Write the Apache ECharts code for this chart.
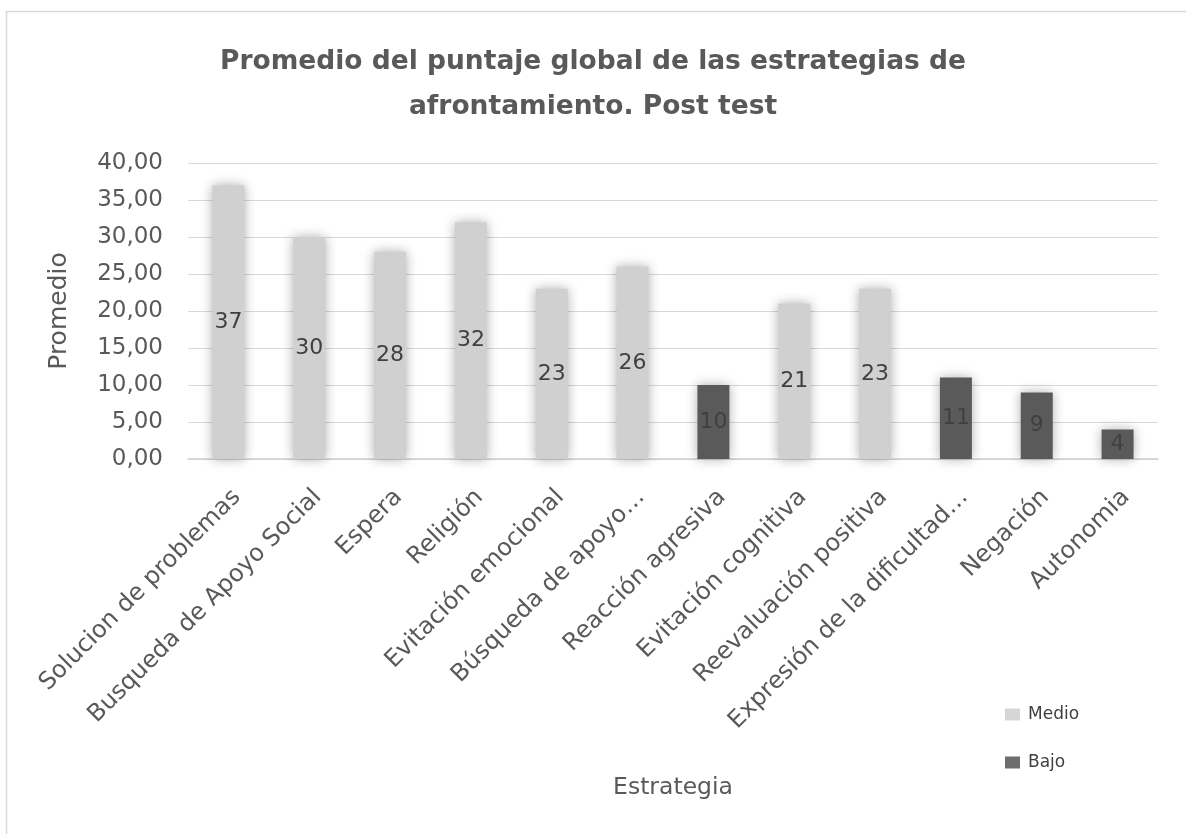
<!DOCTYPE html>
<html>
<head>
<meta charset="utf-8">
<title>Promedio del puntaje global</title>
<script src="https://cdn.jsdelivr.net/npm/echarts@6/dist/echarts.min.js"></script>
<style>
  html, body { margin: 0; padding: 0; background: #ffffff; }
  #chart { width: 1186px; height: 834px; }
</style>
</head>
<body>
<div id="chart"></div>
<script>
// Coping strategies (post test) and their average global score
const categories = [
  'Solucion de problemas', 'Busqueda de Apoyo Social', 'Espera', 'Religión',
  'Evitación emocional', 'Búsqueda de apoyo…', 'Reacción agresiva',
  'Evitación cognitiva', 'Reevaluación positiva', 'Expresión de la dificultad…',
  'Negación', 'Autonomia'
];
const medio = [37, 30, 28, 32, 23, 26, null, 21, 23, null, null, null];
const bajo  = [null, null, null, null, null, null, 10, null, null, 11, 9, 4];
const yTicks = { min: 0, max: 40, interval: 5 };

const FONT = 'DejaVu Sans, Liberation Sans, sans-serif';
const chart = echarts.init(document.getElementById('chart'), null, { renderer: 'canvas' });

const labelStyle = {
  show: true,
  position: 'inside',
  fontFamily: FONT,
  fontSize: 22,
  color: '#404040',
  formatter: p => (p.value == null ? '' : String(p.value))
};

const barShadow = { shadowBlur: 12, shadowColor: 'rgba(0,0,0,0.32)' };

chart.setOption({
  backgroundColor: '#ffffff',
  animation: false,
  graphic: [{
    type: 'rect',
    shape: { x: 6.5, y: 11.5, width: 1400, height: 1000 },
    style: { fill: 'none', stroke: '#d9d9d9', lineWidth: 1.5 },
    silent: true
  }],
  title: {
    text: 'Promedio del puntaje global de las estrategias de\nafrontamiento. Post test',
    left: 'center',
    top: 35,
    textStyle: {
      fontFamily: FONT,
      fontWeight: 'bold',
      fontSize: 26.5,
      lineHeight: 45,
      color: '#595959'
    }
  },
  legend: {
    orient: 'vertical',
    left: 1000,
    top: 701,
    itemWidth: 15,
    itemHeight: 12,
    itemGap: 31,
    icon: 'rect',
    textStyle: { fontFamily: FONT, fontSize: 17, color: '#404040', padding: [0, 0, 0, 3] },
    data: [
      { name: 'Medio', itemStyle: { color: '#d6d6d6', shadowBlur: 0 } },
      { name: 'Bajo', itemStyle: { color: '#6e6e6e', shadowBlur: 0 } }
    ]
  },
  grid: { left: 188, right: 28, top: 163, bottom: 375, containLabel: false },
  xAxis: {
    type: 'category',
    data: categories,
    name: 'Estrategia',
    nameLocation: 'middle',
    nameGap: 317,
    nameTextStyle: { fontFamily: FONT, fontSize: 23.5, color: '#595959' },
    axisLine: { lineStyle: { color: '#d0d0d0', width: 1.5 } },
    axisTick: { show: false },
    axisLabel: {
      interval: 0,
      rotate: 45,
      margin: 26,
      verticalAlign: 'top',
      fontFamily: FONT,
      fontSize: 24,
      color: '#595959'
    }
  },
  yAxis: {
    type: 'value',
    min: yTicks.min,
    max: yTicks.max,
    interval: yTicks.interval,
    name: 'Promedio',
    nameLocation: 'middle',
    nameGap: 116,
    nameRotate: 90,
    nameTextStyle: { fontFamily: FONT, fontSize: 25, color: '#595959' },
    axisLine: { show: false },
    axisTick: { show: false },
    splitLine: { lineStyle: { color: '#d9d9d9', width: 1 } },
    axisLabel: {
      margin: 25,
      fontFamily: FONT,
      fontSize: 23,
      color: '#595959',
      formatter: v => v.toFixed(2).replace('.', ',')
    }
  },
  series: [
    {
      name: 'Medio',
      type: 'bar',
      stack: 'nivel',
      barWidth: 32,
      data: medio,
      itemStyle: Object.assign({ color: '#d0d0d0' }, barShadow),
      label: labelStyle
    },
    {
      name: 'Bajo',
      type: 'bar',
      stack: 'nivel',
      barWidth: 32,
      data: bajo,
      itemStyle: Object.assign({ color: '#5a5a5a' }, barShadow),
      label: labelStyle
    }
  ]
});
</script>
</body>
</html>
